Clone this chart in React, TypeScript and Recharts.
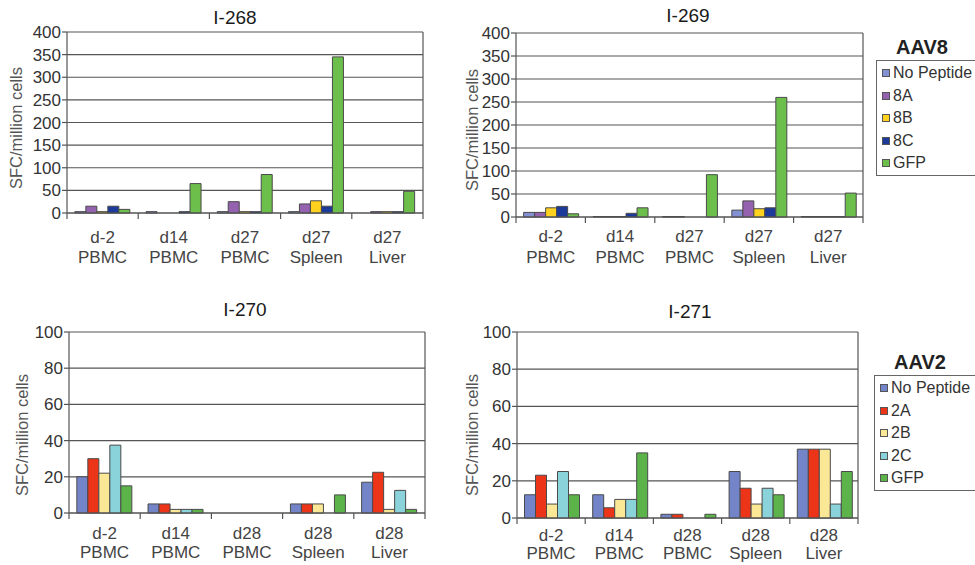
import React from 'react';
import { BarChart, Bar, XAxis, YAxis, CartesianGrid, Legend } from 'recharts';

const FONT = '"Liberation Sans", Arial, sans-serif';

const categoriesAAV8 = ['d-2 PBMC', 'd14 PBMC', 'd27 PBMC', 'd27 Spleen', 'd27 Liver'];
const categoriesAAV2 = ['d-2 PBMC', 'd14 PBMC', 'd28 PBMC', 'd28 Spleen', 'd28 Liver'];

const seriesAAV8 = ['No Peptide', '8A', '8B', '8C', 'GFP'];
const seriesAAV2 = ['No Peptide', '2A', '2B', '2C', 'GFP'];
const colorsAAV8 = ['#8391d2', '#9462ae', '#ffd21f', '#1c3a9a', '#6cbf4a'];
const colorsAAV2 = ['#7484c9', '#ec3418', '#fbe897', '#8ad3da', '#5cb34a'];

const ticksAAV8 = [0, 50, 100, 150, 200, 250, 300, 350, 400];
const ticksAAV2 = [0, 20, 40, 60, 80, 100];

// I-268 (AAV8)
const i268NoPeptide = [3, 3, 3, 3, 0];
const i268_8A = [15, 0, 25, 20, 3];
const i268_8B = [3, 0, 3, 27, 3];
const i268_8C = [15, 3, 3, 15, 3];
const i268GFP = [8, 65, 85, 345, 48];

// I-269 (AAV8)
const i269NoPeptide = [10, 1, 1, 15, 1];
const i269_8A = [10, 1, 1, 35, 1];
const i269_8B = [20, 1, 0, 18, 1];
const i269_8C = [23, 8, 0, 20, 1];
const i269GFP = [7, 20, 92, 260, 52];

// I-270 (AAV2)
const i270NoPeptide = [20, 5, 0, 5, 17];
const i270_2A = [30, 5, 0, 5, 22.5];
const i270_2B = [22, 2, 0, 5, 2];
const i270_2C = [37.5, 2, 0, 0, 12.5];
const i270GFP = [15, 2, 0, 10, 2];

// I-271 (AAV2)
const i271NoPeptide = [12.5, 12.5, 2, 25, 37];
const i271_2A = [23, 5.5, 2, 16, 37];
const i271_2B = [7.5, 10, 0, 7.5, 37];
const i271_2C = [25, 10, 0, 16, 7.5];
const i271GFP = [12.5, 35, 2, 12.5, 25];

function buildRows(categories: string[], series: string[], values: number[][]) {
  return categories.map((name, i) => {
    const row: any = { name };
    series.forEach((s, k) => {
      row[s] = values[k][i];
    });
    return row;
  });
}

function GroupTick(props: any) {
  const { x, y, payload, index, half, last, off } = props;
  const [day, tissue] = String(payload.value).split(' ');
  return (
    <g>
      <line x1={x - half} y1={y} x2={x - half} y2={y + 6} stroke="#555" strokeWidth={1.2} />
      {index === last && (
        <line x1={x + half} y1={y} x2={x + half} y2={y + 6} stroke="#555" strokeWidth={1.2} />
      )}
      <text x={x} y={y + off[0]} textAnchor="middle" fontSize={17} fill="#444" fontFamily={FONT}>
        {day}
      </text>
      <text x={x} y={y + off[1]} textAnchor="middle" fontSize={17} fill="#444" fontFamily={FONT}>
        {tissue}
      </text>
    </g>
  );
}

function YLabel({ cx, cy }: any) {
  return (
    <text
      x={cx}
      y={cy}
      transform={`rotate(-90, ${cx}, ${cy})`}
      textAnchor="middle"
      dominantBaseline="central"
      fontSize={16.5}
      fill="#555"
      fontFamily={FONT}
    >
      SFC/million cells
    </text>
  );
}

// legend drawn in series order (recharts would sort the payload by name)
function LegendBox({ series, colors, title }: any) {
  return (
    <div style={{ fontFamily: FONT }}>
      <div
        style={{
          width: 92,
          textAlign: 'center',
          fontWeight: 'bold',
          fontSize: 20,
          lineHeight: '22px',
          color: '#222',
          marginBottom: 2,
        }}
      >
        {title}
      </div>
      <div style={{ border: '1px solid #666', width: 130, paddingTop: 1, background: '#fff' }}>
        {series.map((s: string, k: number) => (
          <div
            key={s}
            style={{ display: 'flex', alignItems: 'center', height: 22.5, fontSize: 16, color: '#333' }}
          >
            <span
              style={{
                display: 'inline-block',
                width: 6,
                height: 6,
                background: colors[k],
                border: '1px solid #555',
                marginLeft: 5,
                marginRight: 3,
              }}
            />
            {s}
          </div>
        ))}
      </div>
    </div>
  );
}

type PanelProps = {
  left: number;
  top: number;
  width: number;
  height: number;
  margin: { top: number; right: number; bottom: number; left: number };
  title: string;
  titleX: number;
  titleY: number;
  rows: any[];
  series: string[];
  colors: string[];
  yMax: number;
  yTicks: number[];
  labelPos: [number, number];
  labelOff: [number, number];
  legend?: { title: string; left: number; top: number };
};

function Panel(p: PanelProps) {
  const yAxisWidth = 40;
  const plotWidth = p.width - p.margin.left - p.margin.right - yAxisWidth;
  const half = plotWidth / p.rows.length / 2;
  return (
    <>
      <div
        style={{
          position: 'absolute',
          left: p.titleX - 60,
          top: p.titleY - 11,
          width: 120,
          textAlign: 'center',
          fontFamily: FONT,
          fontSize: 19,
          lineHeight: '22px',
          color: '#1a1a1a',
        }}
      >
        {p.title}
      </div>
      <div style={{ position: 'absolute', left: p.left, top: p.top }}>
        <BarChart
          width={p.width}
          height={p.height}
          data={p.rows}
          margin={p.margin}
          barCategoryGap="11%"
          barGap={0}
        >
          <CartesianGrid
            stroke="#555"
            strokeWidth={1.2}
            verticalCoordinatesGenerator={({ offset }: any) => [offset.left + offset.width]}
          />
          <XAxis
            dataKey="name"
            interval={0}
            height={40}
            tickLine={false}
            tickSize={0}
            tickMargin={0}
            axisLine={{ stroke: '#555', strokeWidth: 1.2 }}
            tick={(t: any) => (
              <GroupTick {...t} half={half} last={p.rows.length - 1} off={p.labelOff} />
            )}
          />
          <YAxis
            width={yAxisWidth}
            domain={[0, p.yMax]}
            ticks={p.yTicks}
            interval={0}
            tickSize={5}
            tickMargin={1}
            tickLine={{ stroke: '#555', strokeWidth: 1.2 }}
            axisLine={{ stroke: '#555', strokeWidth: 1.2 }}
            tick={{ fontSize: 17, fill: '#333', fontFamily: FONT }}
            label={<YLabel cx={p.labelPos[0]} cy={p.labelPos[1]} />}
          />
          {p.legend && (
            <Legend
              layout="vertical"
              align="center"
              verticalAlign="middle"
              wrapperStyle={{ left: p.legend.left, top: p.legend.top, width: 140 }}
              content={() => <LegendBox series={p.series} colors={p.colors} title={p.legend!.title} />}
            />
          )}
          {p.series.map((s, k) => (
            <Bar
              key={s}
              dataKey={s}
              fill={p.colors[k]}
              stroke="#4a4a4a"
              strokeWidth={1}
              isAnimationActive={false}
            />
          ))}
        </BarChart>
      </div>
    </>
  );
}

export default function App() {
  const rows268 = buildRows(categoriesAAV8, seriesAAV8, [i268NoPeptide, i268_8A, i268_8B, i268_8C, i268GFP]);
  const rows269 = buildRows(categoriesAAV8, seriesAAV8, [i269NoPeptide, i269_8A, i269_8B, i269_8C, i269GFP]);
  const rows270 = buildRows(categoriesAAV2, seriesAAV2, [i270NoPeptide, i270_2A, i270_2B, i270_2C, i270GFP]);
  const rows271 = buildRows(categoriesAAV2, seriesAAV2, [i271NoPeptide, i271_2A, i271_2B, i271_2C, i271GFP]);

  return (
    <div
      style={{
        position: 'absolute',
        left: 0,
        top: 0,
        width: 975,
        height: 565,
        overflow: 'hidden',
        background: '#fff',
      }}
    >
      <Panel
        left={0}
        top={0}
        width={440}
        height={280}
        margin={{ top: 32, right: 17, bottom: 27, left: 27 }}
        title="I-268"
        titleX={235}
        titleY={18}
        rows={rows268}
        series={seriesAAV8}
        colors={colorsAAV8}
        yMax={400}
        yTicks={ticksAAV8}
        labelPos={[16, 128]}
        labelOff={[30, 50]}
      />
      <Panel
        left={440}
        top={0}
        width={535}
        height={280}
        margin={{ top: 33, right: 112, bottom: 23, left: 36 }}
        title="I-269"
        titleX={688}
        titleY={16}
        rows={rows269}
        series={seriesAAV8}
        colors={colorsAAV8}
        yMax={400}
        yTicks={ticksAAV8}
        labelPos={[32, 130]}
        labelOff={[25, 46]}
        legend={{ title: 'AAV8', left: 436, top: 36 }}
      />
      <Panel
        left={0}
        top={285}
        width={440}
        height={280}
        margin={{ top: 47, right: 15, bottom: 12, left: 29 }}
        title="I-270"
        titleX={245}
        titleY={310}
        rows={rows270}
        series={seriesAAV2}
        colors={colorsAAV2}
        yMax={100}
        yTicks={ticksAAV2}
        labelPos={[22, 150]}
        labelOff={[26, 45]}
      />
      <Panel
        left={440}
        top={285}
        width={535}
        height={280}
        margin={{ top: 47, right: 117, bottom: 7, left: 37 }}
        title="I-271"
        titleX={690}
        titleY={312}
        rows={rows271}
        series={seriesAAV2}
        colors={colorsAAV2}
        yMax={100}
        yTicks={ticksAAV2}
        labelPos={[32, 150]}
        labelOff={[23, 41]}
        legend={{ title: 'AAV2', left: 434, top: 66 }}
      />
    </div>
  );
}
